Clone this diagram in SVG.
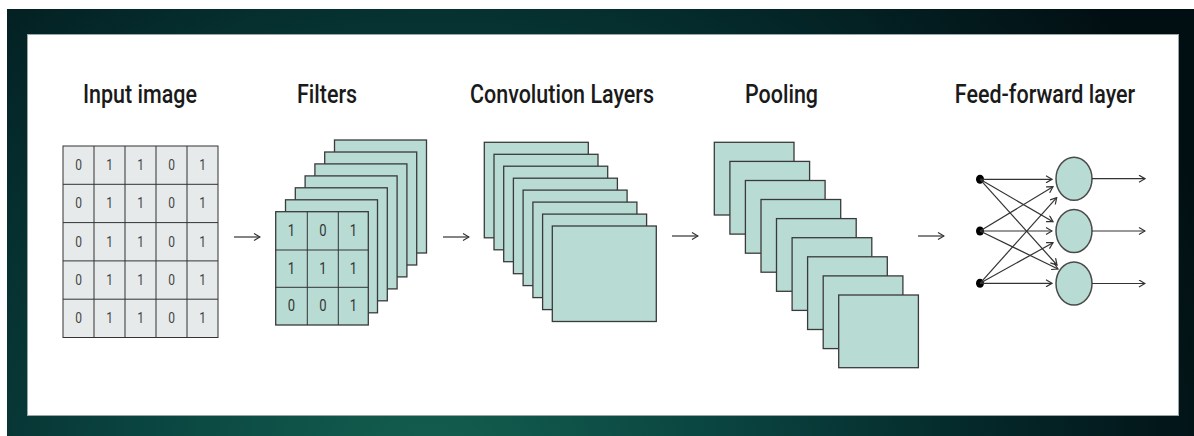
<svg xmlns="http://www.w3.org/2000/svg" width="1194" height="436" viewBox="0 0 1194 436">
<defs>
<radialGradient id="bg" cx="430" cy="480" r="820" gradientUnits="userSpaceOnUse">
<stop offset="0" stop-color="#14604f"/>
<stop offset="0.35" stop-color="#0a4541"/>
<stop offset="0.7" stop-color="#042628"/>
<stop offset="1" stop-color="#020f12"/>
</radialGradient>
<marker id="ah" viewBox="0 0 8 8" refX="7" refY="4" markerWidth="8" markerHeight="8" markerUnits="userSpaceOnUse" orient="auto">
<path d="M1,0.5 L7,4 L1,7.5" fill="none" stroke="#333" stroke-width="1.2"/>
</marker>
<style>
.title{font-family:Roboto,"Liberation Sans",sans-serif;font-size:21.5px;font-weight:500;fill:#1a1a1a;text-anchor:middle}
.dg{font-family:Roboto,"Liberation Sans",sans-serif;font-size:12px;fill:#444;text-anchor:middle}
.dg2{font-family:Roboto,"Liberation Sans",sans-serif;font-size:13px;fill:#333;text-anchor:middle}
.cell{fill:#e6eaea;stroke:#333;stroke-width:1}
.gl{stroke:#333;stroke-width:1}
.layer{fill:#b8dbd4;stroke:#3a3a3a;stroke-width:1.3}
.neuron{fill:#b8dbd4;stroke:#4a4a4a;stroke-width:1.5}
.con{stroke:#333;stroke-width:1.2;fill:none;marker-end:url(#ah)}
.dot{fill:#000}
</style>
</defs>
<rect x="0" y="0" width="1194" height="436" fill="#ffffff"/>
<rect x="7" y="9" width="1187" height="427" fill="url(#bg)"/>
<rect x="27.5" y="34.5" width="1151" height="381" fill="#ffffff" stroke="#9aa6a6" stroke-width="1"/>

<g id="titles">
<text class="title" transform="translate(140,103) scale(1,1.2)">Input image</text>
<text class="title" transform="translate(327,103) scale(1,1.2)">Filters</text>
<text class="title" transform="translate(562,103) scale(1,1.2)">Convolution Layers</text>
<text class="title" transform="translate(781.5,103) scale(1,1.2)">Pooling</text>
<text class="title" transform="translate(1045,103) scale(1,1.2)">Feed-forward layer</text>
</g>

<g id="input-image">
<rect class="cell" x="63" y="146" width="155" height="191.5"/>
<path class="gl" d="M94,146V337.5M125,146V337.5M156,146V337.5M187,146V337.5M63,184.3H218M63,222.6H218M63,260.9H218M63,299.2H218"/>
<g class="dg">
<text transform="translate(78.5,170) scale(1,1.2)">0</text><text transform="translate(109.5,170) scale(1,1.2)">1</text><text transform="translate(140.5,170) scale(1,1.2)">1</text><text transform="translate(171.5,170) scale(1,1.2)">0</text><text transform="translate(202.5,170) scale(1,1.2)">1</text>
<text transform="translate(78.5,208.3) scale(1,1.2)">0</text><text transform="translate(109.5,208.3) scale(1,1.2)">1</text><text transform="translate(140.5,208.3) scale(1,1.2)">1</text><text transform="translate(171.5,208.3) scale(1,1.2)">0</text><text transform="translate(202.5,208.3) scale(1,1.2)">1</text>
<text transform="translate(78.5,246.6) scale(1,1.2)">0</text><text transform="translate(109.5,246.6) scale(1,1.2)">1</text><text transform="translate(140.5,246.6) scale(1,1.2)">1</text><text transform="translate(171.5,246.6) scale(1,1.2)">0</text><text transform="translate(202.5,246.6) scale(1,1.2)">1</text>
<text transform="translate(78.5,284.9) scale(1,1.2)">0</text><text transform="translate(109.5,284.9) scale(1,1.2)">1</text><text transform="translate(140.5,284.9) scale(1,1.2)">1</text><text transform="translate(171.5,284.9) scale(1,1.2)">0</text><text transform="translate(202.5,284.9) scale(1,1.2)">1</text>
<text transform="translate(78.5,323.2) scale(1,1.2)">0</text><text transform="translate(109.5,323.2) scale(1,1.2)">1</text><text transform="translate(140.5,323.2) scale(1,1.2)">1</text><text transform="translate(171.5,323.2) scale(1,1.2)">0</text><text transform="translate(202.5,323.2) scale(1,1.2)">1</text>
</g>
</g>

<g id="filters">
<rect class="layer" x="334.5" y="140" width="92" height="113"/>
<rect class="layer" x="324.7" y="152" width="92" height="113"/>
<rect class="layer" x="314.9" y="163.9" width="92" height="113"/>
<rect class="layer" x="305.1" y="175.9" width="92" height="113"/>
<rect class="layer" x="295.3" y="187.8" width="92" height="113"/>
<rect class="layer" x="285.5" y="199.8" width="92" height="113"/>
<rect class="layer" x="275.7" y="211.7" width="92.6" height="113.3"/>
<path class="gl" d="M307.3,211.7V325M338.3,211.7V325M275.7,250H368.3M275.7,287.3H368.3"/>
<g class="dg2">
<text transform="translate(291.5,236) scale(1,1.2)">1</text><text transform="translate(322.8,236) scale(1,1.2)">0</text><text transform="translate(353.3,236) scale(1,1.2)">1</text>
<text transform="translate(291.5,273.8) scale(1,1.2)">1</text><text transform="translate(322.8,273.8) scale(1,1.2)">1</text><text transform="translate(353.3,273.8) scale(1,1.2)">1</text>
<text transform="translate(291.5,311.3) scale(1,1.2)">0</text><text transform="translate(322.8,311.3) scale(1,1.2)">0</text><text transform="translate(353.3,311.3) scale(1,1.2)">1</text>
</g>
</g>

<g id="convolution-layers">
<rect class="layer" x="484.3" y="142.3" width="104" height="95.5"/>
<rect class="layer" x="494" y="154.3" width="104" height="95.5"/>
<rect class="layer" x="503.7" y="166.2" width="104" height="95.5"/>
<rect class="layer" x="513.4" y="178.2" width="104" height="95.5"/>
<rect class="layer" x="523.1" y="190.1" width="104" height="95.5"/>
<rect class="layer" x="532.9" y="202.1" width="104" height="95.5"/>
<rect class="layer" x="542.6" y="214.1" width="104" height="95.5"/>
<rect class="layer" x="552.3" y="226" width="104" height="95.5"/>
</g>

<g id="pooling">
<rect class="layer" x="714.3" y="142.3" width="79.7" height="72.7"/>
<rect class="layer" x="729.9" y="161.4" width="79.7" height="72.7"/>
<rect class="layer" x="745.4" y="180.5" width="79.7" height="72.7"/>
<rect class="layer" x="761" y="199.5" width="79.7" height="72.7"/>
<rect class="layer" x="776.5" y="218.6" width="79.7" height="72.7"/>
<rect class="layer" x="792.1" y="237.7" width="79.7" height="72.7"/>
<rect class="layer" x="807.6" y="256.8" width="79.7" height="72.7"/>
<rect class="layer" x="823.2" y="275.9" width="79.7" height="72.7"/>
<rect class="layer" x="838.7" y="295" width="79.7" height="72.7"/>
</g>

<g id="feed-forward-layer">
<ellipse class="dot" cx="980" cy="179.3" rx="4" ry="4.5"/>
<ellipse class="dot" cx="980" cy="231" rx="4" ry="4.5"/>
<ellipse class="dot" cx="980" cy="283.3" rx="4" ry="4.5"/>
<ellipse class="neuron" cx="1074" cy="178.7" rx="18" ry="21.5"/>
<ellipse class="neuron" cx="1074" cy="231" rx="18" ry="21.5"/>
<ellipse class="neuron" cx="1074" cy="283.5" rx="18" ry="21.5"/>
</g>

<g id="connectors">
<line class="con" x1="234" y1="237" x2="260" y2="237"/>
<line class="con" x1="443" y1="237" x2="469" y2="237"/>
<line class="con" x1="672" y1="236" x2="698" y2="236"/>
<line class="con" x1="918" y1="236" x2="944" y2="236"/>
<line class="con" x1="980" y1="179.3" x2="1052" y2="179.3"/>
<line class="con" x1="980" y1="179.3" x2="1053" y2="221.7"/>
<line class="con" x1="980" y1="179.3" x2="1057" y2="265"/>
<line class="con" x1="980" y1="231" x2="1053" y2="186.7"/>
<line class="con" x1="980" y1="231" x2="1052" y2="231"/>
<line class="con" x1="980" y1="231" x2="1058" y2="269"/>
<line class="con" x1="980" y1="283.3" x2="1056.7" y2="197.7"/>
<line class="con" x1="980" y1="283.3" x2="1053" y2="242.7"/>
<line class="con" x1="980" y1="283.3" x2="1052" y2="283.3"/>
<line class="con" x1="1092" y1="178.7" x2="1145" y2="178.7"/>
<line class="con" x1="1092" y1="231" x2="1145" y2="231"/>
<line class="con" x1="1092" y1="283.5" x2="1145" y2="283.5"/>
</g>
</svg>
